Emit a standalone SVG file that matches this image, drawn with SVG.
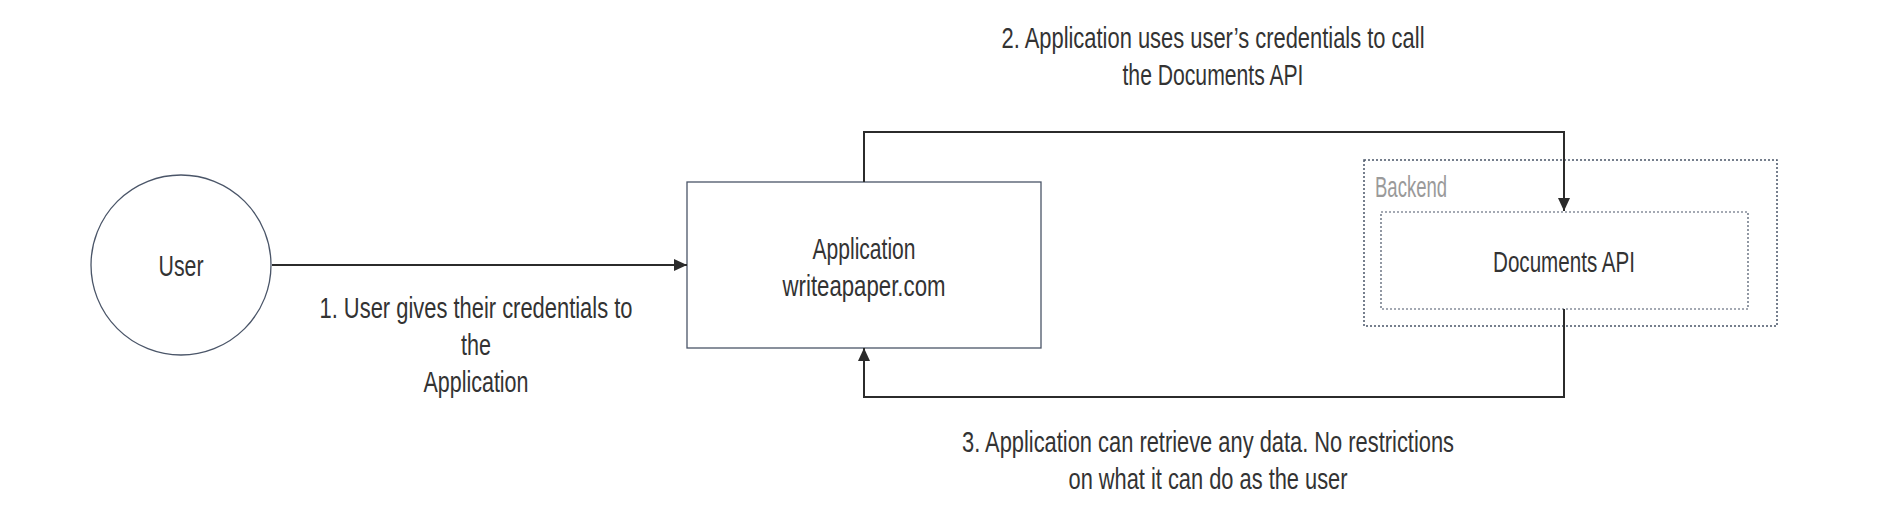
<svg xmlns="http://www.w3.org/2000/svg" width="1880" height="518" viewBox="0 0 1880 518">
<defs>
<marker id="arr" viewBox="0 0 13 12" refX="13" refY="6" markerWidth="13" markerHeight="12" markerUnits="userSpaceOnUse" orient="auto">
<path d="M0,0 L13,6 L0,12 Z" fill="#2b2b2b"/>
</marker>
</defs>
<style>
text{font-family:"Liberation Sans","Arial",sans-serif;font-size:30px;fill:#333333;text-anchor:middle;dominant-baseline:central}
.node{fill:#ffffff;stroke:#4a5568;stroke-width:1.3}
.dot{fill:none;stroke:#4a5568;stroke-width:1.5;stroke-dasharray:2 2}
.conn{fill:none;stroke:#2b2b2b;stroke-width:2}
.grey{fill:#9a9a9a;text-anchor:start}
</style>
<rect width="1880" height="518" fill="#ffffff"/>
<g id="backend">
<rect class="dot" x="1364" y="160" width="413" height="166"/>
<text class="grey" x="1375" y="186" textLength="72" lengthAdjust="spacingAndGlyphs">Backend</text>
</g>
<g id="documents-api">
<rect class="dot" x="1381" y="212" width="367" height="97" style="stroke-width:1.2"/>
<text x="1564" y="261" textLength="142" lengthAdjust="spacingAndGlyphs">Documents API</text>
</g>
<g id="user">
<circle class="node" cx="181" cy="265" r="90"/>
<text x="181" y="265" textLength="45" lengthAdjust="spacingAndGlyphs">User</text>
</g>
<g id="application">
<rect class="node" x="687" y="182" width="354" height="166"/>
<text x="864" y="248" textLength="103" lengthAdjust="spacingAndGlyphs">Application</text>
<text x="864" y="285" textLength="163" lengthAdjust="spacingAndGlyphs">writeapaper.com</text>
</g>
<g id="connectors">
<path class="conn" d="M272,265 L687,265" marker-end="url(#arr)"/>
<path class="conn" d="M864,182 L864,132 L1564,132 L1564,211" marker-end="url(#arr)"/>
<path class="conn" d="M1564,309 L1564,397 L864,397 L864,348" marker-end="url(#arr)"/>
</g>
<g id="labels">
<text x="476" y="307" textLength="313" lengthAdjust="spacingAndGlyphs">1. User gives their credentials to</text>
<text x="476" y="344" textLength="30" lengthAdjust="spacingAndGlyphs">the</text>
<text x="476" y="381" textLength="105" lengthAdjust="spacingAndGlyphs">Application</text>
<text x="1213" y="37" textLength="423" lengthAdjust="spacingAndGlyphs">2. Application uses user’s credentials to call</text>
<text x="1213" y="74" textLength="181" lengthAdjust="spacingAndGlyphs">the Documents API</text>
<text x="1208" y="441" textLength="492" lengthAdjust="spacingAndGlyphs">3. Application can retrieve any data. No restrictions</text>
<text x="1208" y="478" textLength="279" lengthAdjust="spacingAndGlyphs">on what it can do as the user</text>
</g>
</svg>
